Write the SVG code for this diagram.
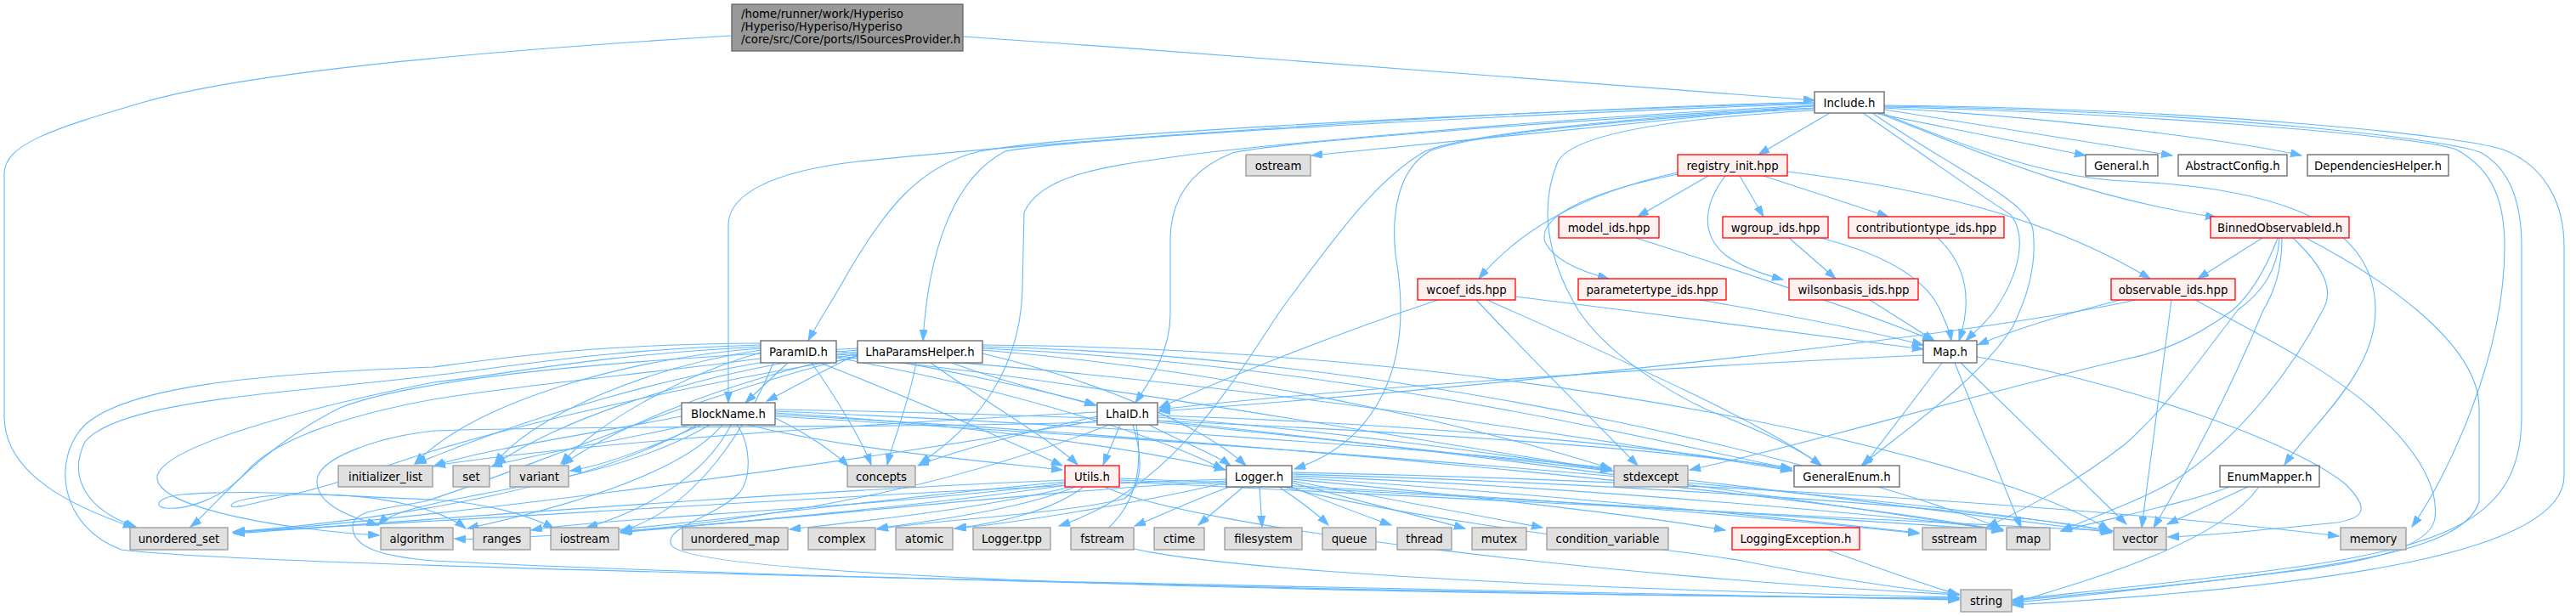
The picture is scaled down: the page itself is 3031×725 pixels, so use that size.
<svg xmlns="http://www.w3.org/2000/svg" width="3031" height="725" viewBox="0 0 3031 725">
<style>
.n rect{fill:#fff;stroke:#666;stroke-width:1.3}
.g rect{fill:#e0e0e0;stroke:#999;stroke-width:1.3}
.r rect{fill:#fff0f0;stroke:#f00;stroke-width:1.3}
.root rect{fill:#999;stroke:#666;stroke-width:1.3}
text{font-family:"DejaVu Sans","Liberation Sans",sans-serif;font-size:13.3px;fill:#000;text-anchor:middle}
.root text{text-anchor:start}
#edges path{fill:none;stroke:#63b8ff;stroke-width:1.1;marker-end:url(#ah)}
</style>
<defs>
<marker id="ah" markerUnits="userSpaceOnUse" markerWidth="14" markerHeight="10" refX="13" refY="4.5" orient="auto">
<path d="M0,0 L13,4.5 L0,9 z" fill="#63b8ff" stroke="#63b8ff" stroke-width="1"/>
</marker>
</defs>
<rect width="3031" height="725" fill="#fff"/>
<g id="edges">
<path d="M1133,43 C1500,68 1900,100 2135,118"/>
<path d="M861,42 C600,58 300,82 170,120 C60,152 5,170 5,205 L5,490 C5,560 90,598 158,621"/>
<path d="M2153,133 L2069,182"/>
<path d="M2135,124 L1543,183"/>
<path d="M2205,133 L2454,183"/>
<path d="M2217,129 L2556,183"/>
<path d="M2217,127 C2450,140 2650,170 2708,183"/>
<path d="M2210,133 C2330,180 2450,232 2608,256"/>
<path d="M2214,133 C2330,180 2420,210 2500,213 C2700,222 2795,270 2795,365 C2795,440 2720,500 2688,547"/>
<path d="M2217,126 C2500,132 2850,160 2890,176 C2935,200 2947,240 2947,290 C2947,420 2880,560 2838,620"/>
<path d="M2217,125 C2600,130 2890,165 2920,180 C2955,200 2967,240 2967,290 L2967,490 C2967,620 2870,650 2600,680 C2500,692 2420,700 2368,706"/>
<path d="M2217,124 C2600,128 2900,160 2945,176 C2995,195 3017,240 3017,290 L3017,560 C3017,650 2750,690 2368,712"/>
<path d="M2192,133 C2260,180 2330,230 2365,252 C2385,275 2378,320 2347,365 C2335,382 2322,392 2313,401"/>
<path d="M2203,133 C2300,200 2385,235 2392,270 C2398,320 2380,360 2368,385 C2330,445 2250,500 2190,548"/>
<path d="M2135,120 C1700,132 1200,170 1010,190 C905,202 857,230 857,265 L857,474"/>
<path d="M2135,121 C1650,136 1250,160 1153,178 C1080,195 1040,250 1000,317 C985,345 962,380 951,401"/>
<path d="M2135,122 C1650,140 1250,165 1183,178 C1120,210 1092,300 1086,401"/>
<path d="M2135,124 C1800,140 1450,175 1393,183 C1300,196 1225,205 1205,250 L1203,340 C1200,460 1120,520 1082,546"/>
<path d="M2135,125 C1800,145 1500,168 1450,180 C1405,198 1378,230 1377,280 L1377,370 C1377,415 1352,450 1336,474"/>
<path d="M2135,127 C1900,138 1720,160 1677,178 C1620,210 1570,280 1507,365 C1450,450 1380,575 1246,619"/>
<path d="M2135,128 C1900,140 1725,160 1682,178 C1645,200 1637,250 1642,300 C1665,430 1620,520 1523,552"/>
<path d="M2135,130 C1950,140 1850,160 1833,190 C1812,240 1818,300 1857,365 C1890,415 1960,460 2010,483 C2080,510 2120,530 2143,548"/>
<path d="M2010,207 L1927,255"/>
<path d="M1974,203 C1850,230 1780,280 1740,328"/>
<path d="M1974,205 C1850,230 1810,260 1818,285 C1830,310 1870,322 1893,328"/>
<path d="M2047,207 L2075,255"/>
<path d="M2075,207 L2222,255"/>
<path d="M2030,207 C2005,240 2000,275 2030,300 C2050,315 2075,323 2098,329"/>
<path d="M2103,202 C2250,220 2400,250 2530,328"/>
<path d="M1925,280 C2050,320 2200,370 2275,401"/>
<path d="M2105,280 L2160,328"/>
<path d="M2142,280 C2220,300 2270,330 2285,370 C2292,385 2295,395 2296,401"/>
<path d="M2280,280 C2312,310 2322,350 2305,401"/>
<path d="M2200,353 L2276,401"/>
<path d="M2000,353 C2100,370 2200,390 2263,406"/>
<path d="M1783,349 C1950,370 2150,395 2263,411"/>
<path d="M1692,353 C1550,400 1420,455 1364,480"/>
<path d="M1737,353 C1800,420 1880,500 1927,548"/>
<path d="M1750,353 C1900,420 2080,500 2143,548"/>
<path d="M2495,353 C2420,372 2360,392 2327,406"/>
<path d="M2555,353 L2520,621"/>
<path d="M2583,353 C2650,390 2733,430 2790,480 C2840,525 2870,570 2865,610 C2860,640 2800,660 2700,672 C2550,690 2420,705 2368,709"/>
<path d="M2513,353 C2300,400 1700,460 1364,484"/>
<path d="M2662,280 L2586,328"/>
<path d="M2680,280 C2665,320 2645,350 2627,365 C2580,400 2540,415 2500,423 C2300,470 2100,530 1988,553"/>
<path d="M2682,280 C2680,320 2660,345 2633,365 C2590,420 2550,480 2500,523 C2440,570 2380,600 2338,620"/>
<path d="M2685,280 C2685,320 2675,345 2663,365 C2620,470 2570,560 2534,621"/>
<path d="M2698,280 C2740,320 2745,345 2733,365 C2700,430 2640,510 2567,560 C2530,585 2470,605 2425,625"/>
<path d="M2713,280 C2790,320 2917,400 2917,480 L2917,590 C2900,650 2750,672 2368,707"/>
<path d="M2623,573 C2580,590 2500,606 2425,625"/>
<path d="M2645,573 L2550,617"/>
<path d="M2658,573 C2610,640 2460,682 2368,710"/>
<path d="M2285,427 L2193,548"/>
<path d="M2300,427 L2378,621"/>
<path d="M2307,427 L2502,617"/>
<path d="M2263,418 C2000,430 1600,455 1364,482"/>
<path d="M2326,420 C2500,450 2700,520 2760,570 C2790,600 2780,610 2750,615 C2650,625 2600,630 2551,632"/>
<path d="M927,427 L877,474"/>
<path d="M895,410 C750,420 560,470 488,546"/>
<path d="M895,412 C760,432 625,490 582,546"/>
<path d="M895,415 C800,442 700,500 660,546"/>
<path d="M895,406 C700,412 600,432 510,442 C350,462 140,470 100,520 C80,560 100,600 160,620"/>
<path d="M895,408 C700,418 600,440 510,450 C400,472 195,520 185,560 C180,600 350,625 446,630"/>
<path d="M895,404 C700,405 600,420 510,432 C300,440 150,455 100,500 C60,540 70,620 143,647 C300,668 1500,690 2305,706"/>
<path d="M955,427 C985,470 1015,520 1025,547"/>
<path d="M965,427 C1100,480 1200,525 1250,548"/>
<path d="M984,421 C1200,460 1380,520 1440,553"/>
<path d="M984,419 C1300,450 1700,525 1896,553"/>
<path d="M984,417 C1400,440 1900,520 2108,554"/>
<path d="M984,413 C1100,432 1240,462 1290,477"/>
<path d="M910,427 C880,500 820,600 730,625"/>
<path d="M895,422 C760,440 620,452 510,470 C400,490 320,520 290,555 C260,590 215,600 195,598 C180,596 185,585 215,582 C300,575 420,585 510,588 C570,592 620,605 652,622"/>
<path d="M1009,417 C960,440 930,458 902,472"/>
<path d="M1120,427 C1180,450 1250,466 1289,477"/>
<path d="M1095,427 C1170,480 1240,520 1268,547"/>
<path d="M1078,427 C1068,480 1050,520 1044,547"/>
<path d="M1156,416 C1300,450 1420,505 1466,548"/>
<path d="M1009,412 C800,430 600,500 489,546"/>
<path d="M1009,414 C800,440 650,500 582,547"/>
<path d="M1009,416 C850,450 720,505 662,547"/>
<path d="M1009,410 C800,420 500,440 400,480 C300,530 250,600 224,620"/>
<path d="M1156,412 C1500,440 1800,520 1896,552"/>
<path d="M1156,410 C1600,430 1950,520 2108,552"/>
<path d="M1156,408 C1700,420 2200,560 2355,622"/>
<path d="M1156,406 C1800,410 2350,540 2482,624"/>
<path d="M1009,419 C800,470 600,560 500,590 C450,600 415,600 415,620 C415,645 450,655 510,660 C900,680 1800,700 2305,705"/>
<path d="M1009,421 C850,445 600,500 480,540 C420,560 380,575 330,585 C300,592 272,600 272,595 C272,590 300,583 350,582 C450,580 520,600 548,622"/>
<path d="M802,490 C700,510 560,530 510,549"/>
<path d="M812,500 C720,520 620,536 578,549"/>
<path d="M825,500 C770,525 710,548 671,554"/>
<path d="M912,492 C950,510 985,535 998,549"/>
<path d="M820,500 C700,570 480,610 274,626"/>
<path d="M835,500 C700,580 480,580 445,618"/>
<path d="M850,500 C800,560 650,600 550,622"/>
<path d="M860,500 C830,560 760,600 690,621"/>
<path d="M867,500 C882,520 886,560 870,580 C840,610 780,620 790,642 C820,680 1500,698 2305,704"/>
<path d="M912,484 C1300,500 1700,530 1896,551"/>
<path d="M912,482 C1400,490 1900,520 2108,551"/>
<path d="M912,486 C1150,500 1350,530 1442,553"/>
<path d="M880,500 C1000,530 1180,545 1250,553"/>
<path d="M912,488 C1500,520 2100,580 2356,624"/>
<path d="M912,490 C1600,530 2300,590 2484,626"/>
<path d="M1318,500 L1298,547"/>
<path d="M1352,500 C1390,520 1430,535 1448,548"/>
<path d="M1291,490 C1200,510 1120,532 1080,548"/>
<path d="M1362,491 C1600,510 1800,540 1897,554"/>
<path d="M1362,489 C1700,500 2000,530 2109,554"/>
<path d="M1337,500 C1347,560 1330,600 1300,625 C1260,660 1700,690 2305,703"/>
<path d="M1291,495 C900,560 500,610 274,627"/>
<path d="M1291,497 C1000,505 700,500 510,507 C440,515 375,540 373,565 C372,590 400,605 445,618"/>
<path d="M1305,500 C1100,580 900,610 730,626"/>
<path d="M1333,500 C1345,540 1345,570 1323,587 C1250,605 1100,612 1032,623"/>
<path d="M1362,495 C1800,540 2200,600 2357,625"/>
<path d="M1362,497 C1900,550 2350,610 2485,627"/>
<path d="M1291,485 C1000,500 700,520 511,548"/>
<path d="M1253,565 C900,580 500,612 275,628"/>
<path d="M1253,567 C1000,590 650,640 535,634"/>
<path d="M1253,569 C1000,600 700,610 625,624"/>
<path d="M1255,571 C1050,600 850,615 730,627"/>
<path d="M1260,573 C1150,600 1000,615 929,623"/>
<path d="M1265,573 C1200,600 1100,612 1032,622"/>
<path d="M1275,573 C1240,600 1180,615 1123,622"/>
<path d="M1300,573 C1400,620 1900,680 2305,700"/>
<path d="M1317,565 C1700,580 2150,610 2357,624"/>
<path d="M1317,567 C1800,590 2300,615 2485,625"/>
<path d="M1317,563 C1650,575 2000,600 2258,628"/>
<path d="M1447,573 C1400,590 1370,605 1335,619"/>
<path d="M1463,573 L1410,618"/>
<path d="M1482,573 L1485,620"/>
<path d="M1505,573 C1530,590 1550,605 1563,618"/>
<path d="M1515,571 C1560,590 1600,605 1637,618"/>
<path d="M1520,568 C1600,590 1680,610 1724,622"/>
<path d="M1520,566 C1650,590 1760,610 1815,621"/>
<path d="M1520,564 C1750,585 1950,610 2030,624"/>
<path d="M1520,562 C1800,580 2100,610 2258,627"/>
<path d="M1520,560 C1900,575 2250,610 2357,623"/>
<path d="M1520,558 C1950,570 2350,600 2486,625"/>
<path d="M1520,556 C2000,565 2500,600 2752,631"/>
<path d="M1510,573 C1700,620 2000,650 2050,660 C2150,680 2250,695 2305,699"/>
<path d="M1443,566 C1200,580 900,615 731,625"/>
<path d="M1443,564 C1100,575 600,610 275,626"/>
<path d="M1443,568 C1350,590 1200,615 1124,622"/>
<path d="M2150,647 C2200,665 2270,690 2305,700"/>
</g>
<g id="root" class="root"><rect x="861" y="5" width="272" height="55"/><text x="872" y="21">/home/runner/work/Hyperiso</text><text x="872" y="36">/Hyperiso/Hyperiso/Hyperiso</text><text x="872" y="51">/core/src/Core/ports/ISourcesProvider.h</text></g>
<g id="include" class="n"><rect x="2135" y="108" width="82" height="25"/><text x="2176" y="125.5">Include.h</text></g>
<g id="registry_init" class="r"><rect x="1974" y="182" width="129" height="25"/><text x="2038.5" y="199.5">registry_init.hpp</text></g>
<g id="ostream" class="g"><rect x="1466" y="182" width="76" height="25"/><text x="1504" y="199.5">ostream</text></g>
<g id="general" class="n"><rect x="2454" y="182" width="85" height="25"/><text x="2496.5" y="199.5">General.h</text></g>
<g id="abstractconfig" class="n"><rect x="2563" y="182" width="128" height="25"/><text x="2627" y="199.5">AbstractConfig.h</text></g>
<g id="dependencieshelper" class="n"><rect x="2715" y="182" width="166" height="25"/><text x="2798" y="199.5">DependenciesHelper.h</text></g>
<g id="model_ids" class="r"><rect x="1834" y="255" width="118" height="25"/><text x="1893" y="272.5">model_ids.hpp</text></g>
<g id="wgroup_ids" class="r"><rect x="2027" y="255" width="124" height="25"/><text x="2089" y="272.5">wgroup_ids.hpp</text></g>
<g id="contributiontype_ids" class="r"><rect x="2175" y="255" width="183" height="25"/><text x="2266.5" y="272.5">contributiontype_ids.hpp</text></g>
<g id="binnedobservableid" class="r"><rect x="2601" y="255" width="163" height="25"/><text x="2682.5" y="272.5">BinnedObservableId.h</text></g>
<g id="wcoef_ids" class="r"><rect x="1668" y="328" width="115" height="25"/><text x="1725.5" y="345.5">wcoef_ids.hpp</text></g>
<g id="parametertype_ids" class="r"><rect x="1857" y="328" width="174" height="25"/><text x="1944" y="345.5">parametertype_ids.hpp</text></g>
<g id="wilsonbasis_ids" class="r"><rect x="2105" y="328" width="152" height="25"/><text x="2181" y="345.5">wilsonbasis_ids.hpp</text></g>
<g id="observable_ids" class="r"><rect x="2484" y="328" width="146" height="25"/><text x="2557" y="345.5">observable_ids.hpp</text></g>
<g id="paramid" class="n"><rect x="895" y="401" width="89" height="26"/><text x="939.5" y="418.5">ParamID.h</text></g>
<g id="lhaparamshelper" class="n"><rect x="1009" y="401" width="147" height="26"/><text x="1082.5" y="418.5">LhaParamsHelper.h</text></g>
<g id="map_h" class="n"><rect x="2263" y="401" width="63" height="26"/><text x="2294.5" y="418.5">Map.h</text></g>
<g id="blockname" class="n"><rect x="802" y="474" width="110" height="26"/><text x="857" y="491.5">BlockName.h</text></g>
<g id="lhaid" class="n"><rect x="1291" y="474" width="71" height="26"/><text x="1326.5" y="491.5">LhaID.h</text></g>
<g id="initializer_list" class="g"><rect x="398" y="548" width="111" height="25"/><text x="453.5" y="565.5">initializer_list</text></g>
<g id="set" class="g"><rect x="533" y="548" width="43" height="25"/><text x="554.5" y="565.5">set</text></g>
<g id="variant" class="g"><rect x="600" y="548" width="69" height="25"/><text x="634.5" y="565.5">variant</text></g>
<g id="concepts" class="g"><rect x="997" y="548" width="80" height="25"/><text x="1037" y="565.5">concepts</text></g>
<g id="utils" class="r"><rect x="1253" y="548" width="64" height="25"/><text x="1285" y="565.5">Utils.h</text></g>
<g id="logger" class="n"><rect x="1443" y="548" width="77" height="25"/><text x="1481.5" y="565.5">Logger.h</text></g>
<g id="stdexcept" class="g"><rect x="1899" y="548" width="87" height="25"/><text x="1942.5" y="565.5">stdexcept</text></g>
<g id="generalenum" class="n"><rect x="2111" y="548" width="124" height="25"/><text x="2173" y="565.5">GeneralEnum.h</text></g>
<g id="enummapper" class="n"><rect x="2612" y="548" width="117" height="25"/><text x="2670.5" y="565.5">EnumMapper.h</text></g>
<g id="unordered_set" class="g"><rect x="153" y="621" width="115" height="26"/><text x="210.5" y="638.5">unordered_set</text></g>
<g id="algorithm" class="g"><rect x="448" y="621" width="85" height="26"/><text x="490.5" y="638.5">algorithm</text></g>
<g id="ranges" class="g"><rect x="557" y="621" width="67" height="26"/><text x="590.5" y="638.5">ranges</text></g>
<g id="iostream" class="g"><rect x="648" y="621" width="80" height="26"/><text x="688" y="638.5">iostream</text></g>
<g id="unordered_map" class="g"><rect x="803" y="621" width="124" height="26"/><text x="865" y="638.5">unordered_map</text></g>
<g id="complex" class="g"><rect x="951" y="621" width="79" height="26"/><text x="990.5" y="638.5">complex</text></g>
<g id="atomic" class="g"><rect x="1054" y="621" width="67" height="26"/><text x="1087.5" y="638.5">atomic</text></g>
<g id="logger_tpp" class="g"><rect x="1145" y="621" width="91" height="26"/><text x="1190.5" y="638.5">Logger.tpp</text></g>
<g id="fstream" class="g"><rect x="1260" y="621" width="74" height="26"/><text x="1297" y="638.5">fstream</text></g>
<g id="ctime" class="g"><rect x="1358" y="621" width="59" height="26"/><text x="1387.5" y="638.5">ctime</text></g>
<g id="filesystem" class="g"><rect x="1441" y="621" width="91" height="26"/><text x="1486.5" y="638.5">filesystem</text></g>
<g id="queue" class="g"><rect x="1556" y="621" width="63" height="26"/><text x="1587.5" y="638.5">queue</text></g>
<g id="thread" class="g"><rect x="1644" y="621" width="64" height="26"/><text x="1676" y="638.5">thread</text></g>
<g id="mutex" class="g"><rect x="1732" y="621" width="64" height="26"/><text x="1764" y="638.5">mutex</text></g>
<g id="condition_variable" class="g"><rect x="1820" y="621" width="143" height="26"/><text x="1891.5" y="638.5">condition_variable</text></g>
<g id="loggingexception" class="r"><rect x="2038" y="621" width="150" height="26"/><text x="2113" y="638.5">LoggingException.h</text></g>
<g id="sstream" class="g"><rect x="2262" y="621" width="75" height="26"/><text x="2299.5" y="638.5">sstream</text></g>
<g id="map" class="g"><rect x="2361" y="621" width="51" height="26"/><text x="2386.5" y="638.5">map</text></g>
<g id="vector" class="g"><rect x="2487" y="621" width="62" height="26"/><text x="2518" y="638.5">vector</text></g>
<g id="memory" class="g"><rect x="2754" y="621" width="77" height="26"/><text x="2792.5" y="638.5">memory</text></g>
<g id="string" class="g"><rect x="2307" y="694" width="60" height="26"/><text x="2337" y="711.5">string</text></g>
</svg>
